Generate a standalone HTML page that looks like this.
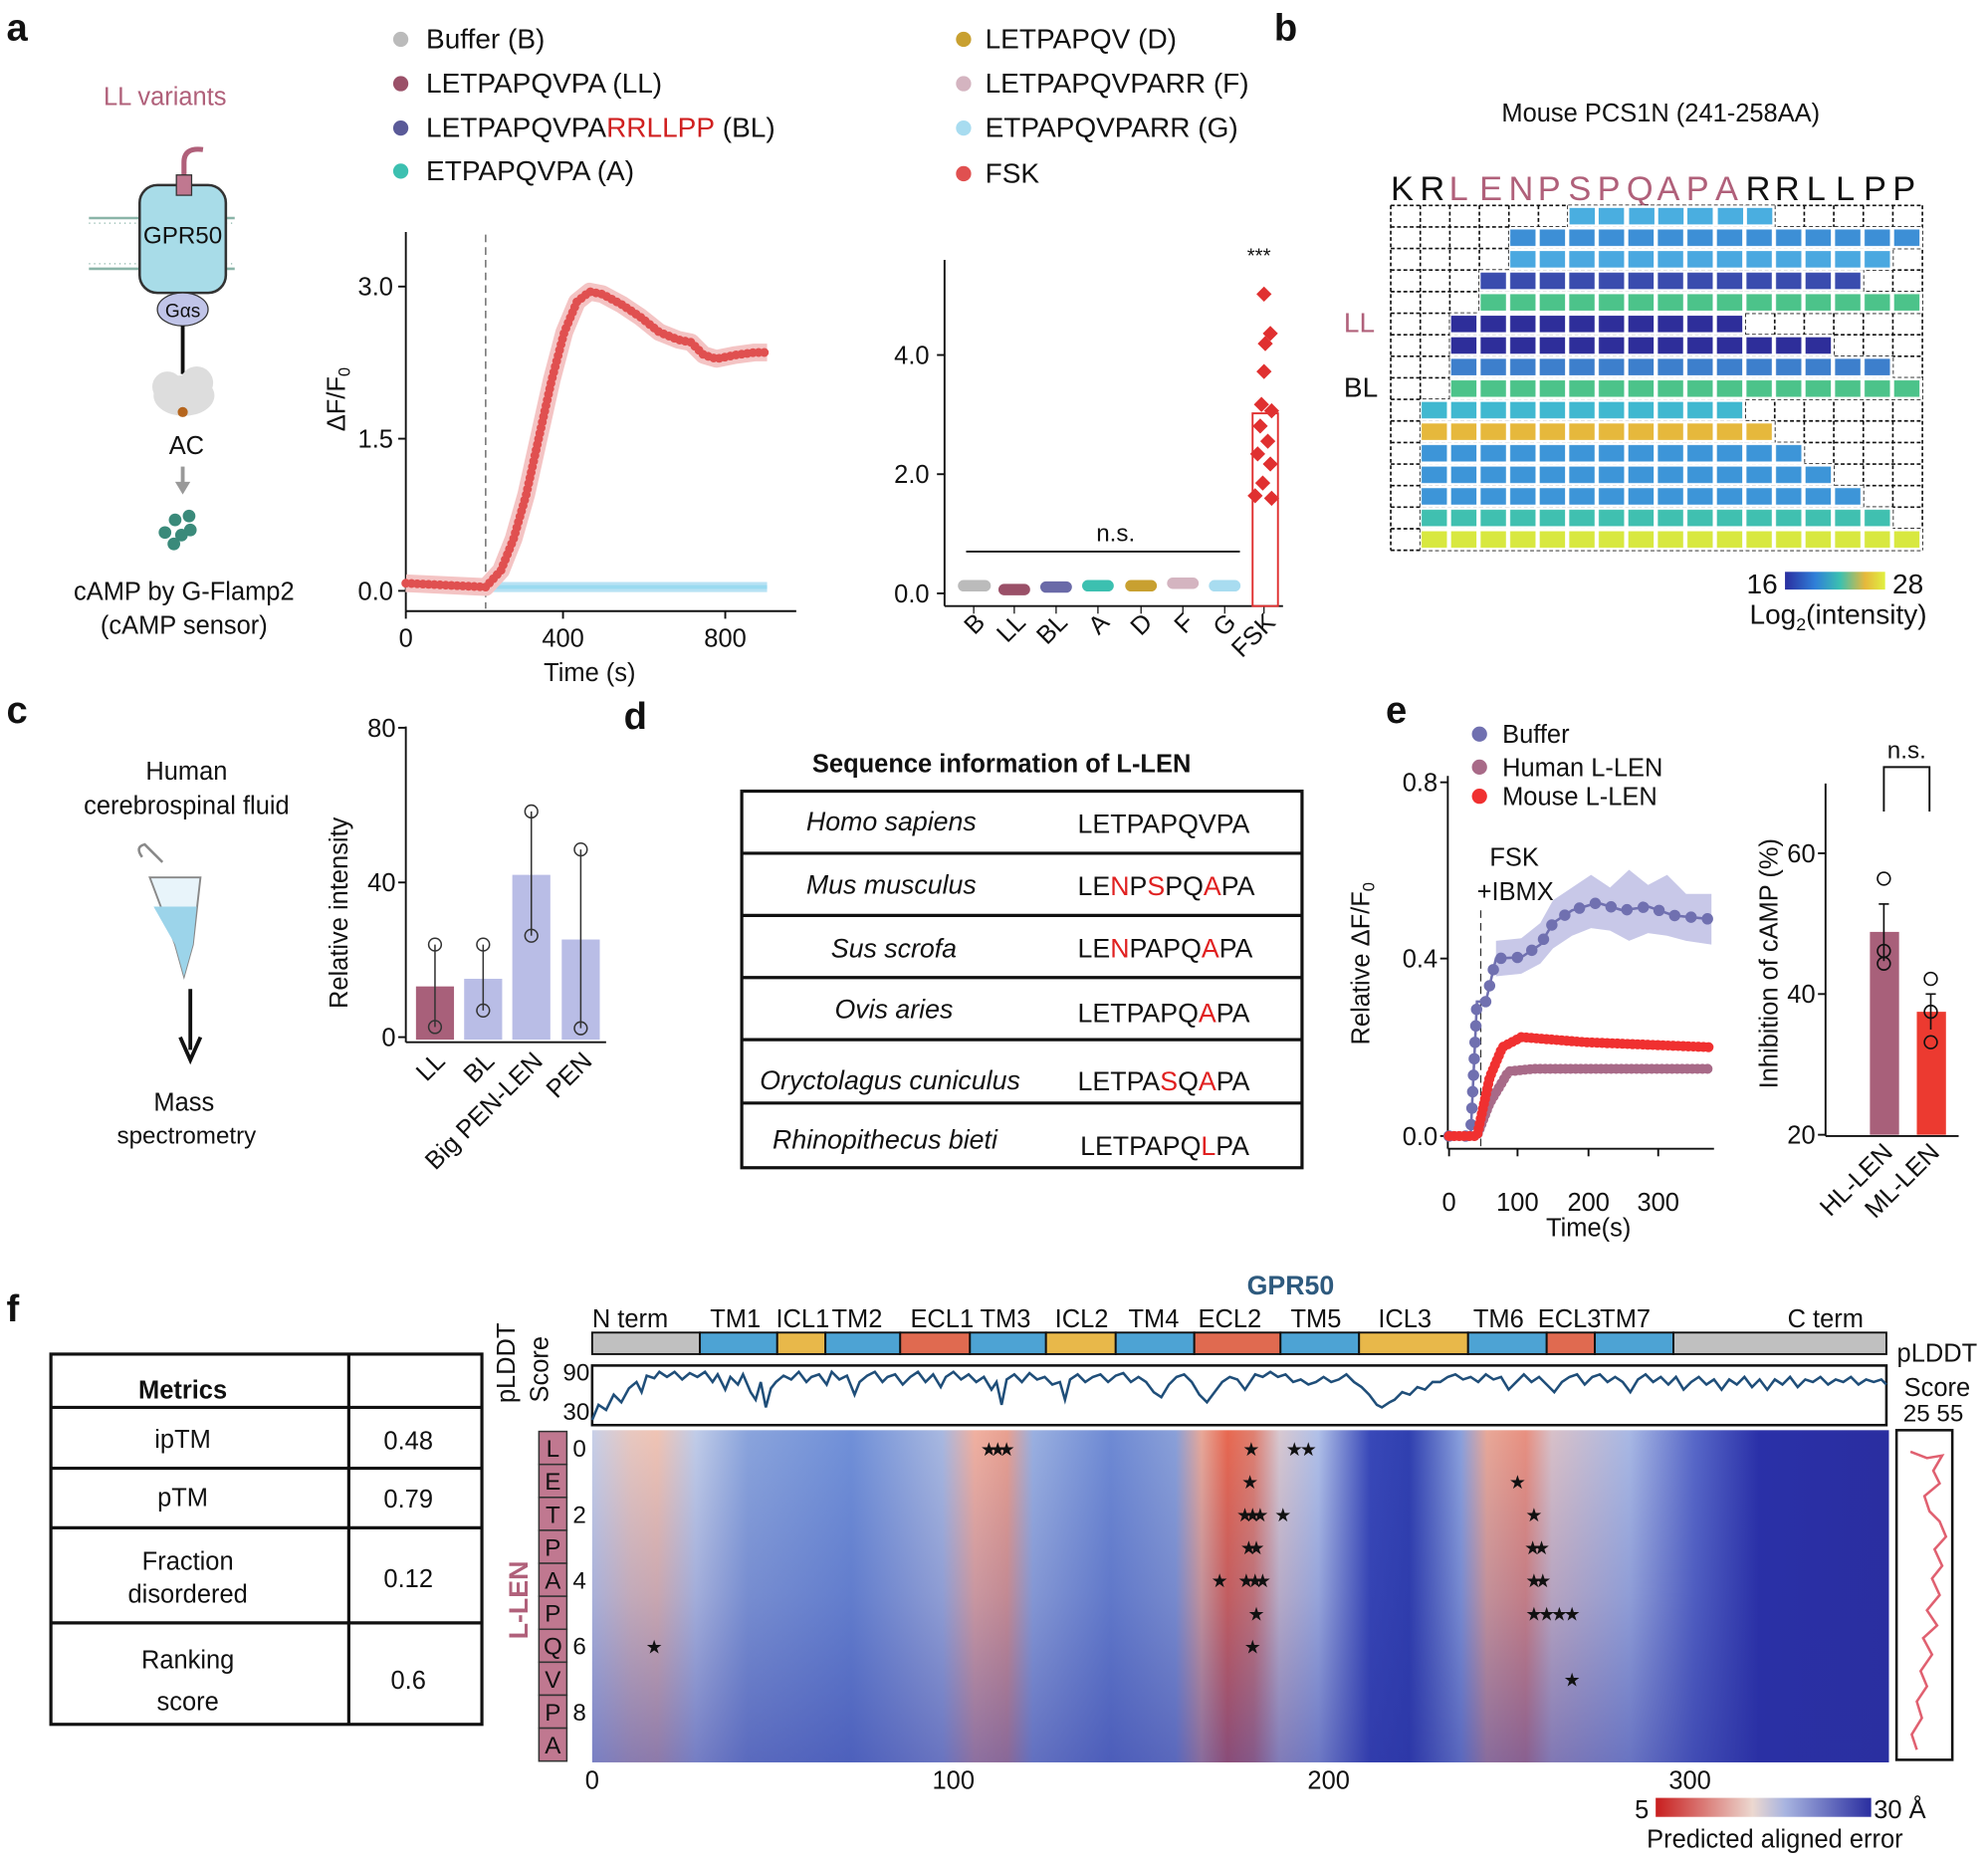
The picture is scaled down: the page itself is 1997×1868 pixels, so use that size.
<!DOCTYPE html>
<html><head><meta charset="utf-8"><style>
html,body{margin:0;padding:0;background:#fff}
svg{display:block}
text{font-family:"Liberation Sans",Arial,sans-serif;fill:#111}
</style></head><body>
<svg xmlns="http://www.w3.org/2000/svg" width="1997" height="1868" viewBox="0 0 1568 1467">
<defs>
<linearGradient id="cb1" x1="0" x2="1"><stop offset="0" stop-color="#2a2ea0"/><stop offset="0.3" stop-color="#2f7fd8"/><stop offset="0.55" stop-color="#3cc0b0"/><stop offset="0.8" stop-color="#e6b83c"/><stop offset="1" stop-color="#e0f040"/></linearGradient>
<linearGradient id="cb2" x1="0" x2="1"><stop offset="0" stop-color="#c81e1e"/><stop offset="0.45" stop-color="#ecd8d0"/><stop offset="0.6" stop-color="#a8b4e0"/><stop offset="1" stop-color="#2a2ea0"/></linearGradient>
<linearGradient id="hm" x1="0" x2="1">
<stop offset="0" stop-color="#c8d0e8"/><stop offset="0.03" stop-color="#e8c8c0"/><stop offset="0.05" stop-color="#f0c4b4"/><stop offset="0.08" stop-color="#c0cce8"/><stop offset="0.12" stop-color="#8aa4dc"/><stop offset="0.2" stop-color="#7090d8"/><stop offset="0.27" stop-color="#a8b8e0"/><stop offset="0.295" stop-color="#f0b0a0"/><stop offset="0.32" stop-color="#e8a090"/><stop offset="0.34" stop-color="#9ab0e0"/><stop offset="0.4" stop-color="#6e8ad4"/><stop offset="0.45" stop-color="#8aa0d8"/><stop offset="0.47" stop-color="#e8a898"/><stop offset="0.49" stop-color="#e86850"/><stop offset="0.51" stop-color="#e08070"/><stop offset="0.53" stop-color="#d8c8d0"/><stop offset="0.56" stop-color="#b0c0e8"/><stop offset="0.6" stop-color="#3848b8"/><stop offset="0.63" stop-color="#3040b0"/><stop offset="0.67" stop-color="#8aa0dc"/><stop offset="0.69" stop-color="#e8a898"/><stop offset="0.72" stop-color="#e89080"/><stop offset="0.74" stop-color="#d8c0c8"/><stop offset="0.8" stop-color="#a8b8e4"/><stop offset="0.85" stop-color="#5868c8"/><stop offset="0.9" stop-color="#2a30a8"/><stop offset="1" stop-color="#2a2ea0"/>
</linearGradient>
<linearGradient id="hmv" x1="0" y1="0" x2="0" y2="1"><stop offset="0" stop-color="#2a30a0" stop-opacity="0"/><stop offset="0.5" stop-color="#2a30a0" stop-opacity="0.2"/><stop offset="1" stop-color="#2a30a0" stop-opacity="0.5"/></linearGradient>
<pattern id="pc1" x="1190.2" y="162" width="23.3" height="17" patternUnits="userSpaceOnUse"><rect x="1" y="2" width="20" height="13" fill="#3d8fd6"/></pattern>
<pattern id="pc2" x="1190.2" y="162" width="23.3" height="17" patternUnits="userSpaceOnUse"><rect x="1" y="2" width="20" height="13" fill="#4aa8e0"/></pattern>
<pattern id="pc3" x="1166.9" y="162" width="23.3" height="17" patternUnits="userSpaceOnUse"><rect x="1" y="2" width="20" height="13" fill="#3a4cae"/></pattern>
<pattern id="pc4" x="1166.9" y="162" width="23.3" height="17" patternUnits="userSpaceOnUse"><rect x="1" y="2" width="20" height="13" fill="#4cc38a"/></pattern>
<pattern id="pc5" x="1143.6" y="162" width="23.3" height="17" patternUnits="userSpaceOnUse"><rect x="1" y="2" width="20" height="13" fill="#2e2e9a"/></pattern>
<pattern id="pc7" x="1143.6" y="162" width="23.3" height="17" patternUnits="userSpaceOnUse"><rect x="1" y="2" width="20" height="13" fill="#3d7fcc"/></pattern>
<pattern id="pc8" x="1143.6" y="162" width="23.3" height="17" patternUnits="userSpaceOnUse"><rect x="1" y="2" width="20" height="13" fill="#4cc38a"/></pattern>
<pattern id="pc9" x="1120.3" y="162" width="23.3" height="17" patternUnits="userSpaceOnUse"><rect x="1" y="2" width="20" height="13" fill="#40b8d0"/></pattern>
<pattern id="pc10" x="1120.3" y="162" width="23.3" height="17" patternUnits="userSpaceOnUse"><rect x="1" y="2" width="20" height="13" fill="#e6b83c"/></pattern>
<pattern id="pc11" x="1120.3" y="162" width="23.3" height="17" patternUnits="userSpaceOnUse"><rect x="1" y="2" width="20" height="13" fill="#3d95d8"/></pattern>
<pattern id="pc14" x="1120.3" y="162" width="23.3" height="17" patternUnits="userSpaceOnUse"><rect x="1" y="2" width="20" height="13" fill="#40c0b0"/></pattern>
<pattern id="pc15" x="1120.3" y="162" width="23.3" height="17" patternUnits="userSpaceOnUse"><rect x="1" y="2" width="20" height="13" fill="#d8e840"/></pattern>
</defs>

<!-- panel labels -->
<g font-weight="bold" font-size="30"><text x="5" y="32">a</text><text x="1005" y="32">b</text><text x="5" y="570">c</text><text x="492" y="575">d</text><text x="1093" y="570">e</text><text x="5" y="1042">f</text></g>

<!-- a schematic -->
<text x="130" y="83" font-size="20" text-anchor="middle" style="fill:#b0607a">LL variants</text>
<path d="M145 150 V128 Q145 116 160 118" stroke="#b0607a" stroke-width="4" fill="none"/>
<g stroke="#8ab4a8" stroke-width="2"><line x1="70" y1="172" x2="185" y2="172"/><line x1="70" y1="212" x2="185" y2="212"/></g>
<g stroke="#8ab4a8" stroke-width="1"><line x1="70" y1="176" x2="185" y2="176" stroke-dasharray="1 3"/><line x1="70" y1="208" x2="185" y2="208" stroke-dasharray="1 3"/></g>
<rect x="110" y="146" width="68" height="85" rx="14" fill="#a8dce8" stroke="#333" stroke-width="2"/>
<rect x="139" y="138" width="12" height="16" fill="#c07890" stroke="#333"/>
<text x="144" y="192" font-size="19" text-anchor="middle">GPR50</text>
<ellipse cx="144" cy="244" rx="20" ry="13" fill="#c0c4e8" stroke="#333"/>
<text x="144" y="250" font-size="15" text-anchor="middle">Gαs</text>
<line x1="144" y1="257" x2="144" y2="295" stroke="#111" stroke-width="3"/>
<ellipse cx="145" cy="312" rx="24" ry="16" fill="#ddd"/><circle cx="132" cy="305" r="12" fill="#ddd"/><circle cx="155" cy="302" r="13" fill="#ddd"/>
<circle cx="144" cy="325" r="4" fill="#b5651d"/>
<text x="147" y="358" font-size="20" text-anchor="middle">AC</text>
<line x1="144" y1="368" x2="144" y2="382" stroke="#999" stroke-width="3"/><path d="M138 380 L150 380 L144 390Z" fill="#999"/>
<g fill="#3a8a7a"><circle cx="138" cy="410" r="5"/><circle cx="149" cy="407" r="5"/><circle cx="130" cy="420" r="5"/><circle cx="143" cy="422" r="5"/><circle cx="150" cy="418" r="5"/><circle cx="137" cy="429" r="5"/></g>
<text x="145" y="473" font-size="20" text-anchor="middle">cAMP by G-Flamp2</text>
<text x="145" y="500" font-size="20" text-anchor="middle">(cAMP sensor)</text>

<!-- a legend -->
<g font-size="22">
<circle cx="316" cy="31" r="6" fill="#bbb"/><text x="336" y="38">Buffer (B)</text>
<circle cx="316" cy="66" r="6" fill="#9a5068"/><text x="336" y="73">LETPAPQVPA (LL)</text>
<circle cx="316" cy="101" r="6" fill="#5a5a98"/><text x="336" y="108">LETPAPQVPA<tspan style="fill:#d02020">RRLLPP</tspan> (BL)</text>
<circle cx="316" cy="135" r="6" fill="#3cc0b0"/><text x="336" y="142">ETPAPQVPA (A)</text>
<circle cx="760" cy="31" r="6" fill="#c8a030"/><text x="777" y="38">LETPAPQV (D)</text>
<circle cx="760" cy="66" r="6" fill="#d4b4c0"/><text x="777" y="73">LETPAPQVPARR (F)</text>
<circle cx="760" cy="101" r="6" fill="#a8dcf0"/><text x="777" y="108">ETPAPQVPARR (G)</text>
<circle cx="760" cy="137" r="6" fill="#e05050"/><text x="777" y="144">FSK</text>
</g>

<!-- a line chart -->
<g stroke="#111" stroke-width="1.5"><line x1="320" y1="183" x2="320" y2="482"/><line x1="320" y1="482" x2="628" y2="482"/>
<line x1="314" y1="226" x2="320" y2="226"/><line x1="314" y1="346" x2="320" y2="346"/><line x1="314" y1="466" x2="320" y2="466"/>
<line x1="320" y1="482" x2="320" y2="488"/><line x1="444" y1="482" x2="444" y2="488"/><line x1="572" y1="482" x2="572" y2="488"/></g>
<g font-size="20" text-anchor="end"><text x="310" y="233">3.0</text><text x="310" y="353">1.5</text><text x="310" y="473">0.0</text></g>
<g font-size="20" text-anchor="middle"><text x="320" y="510">0</text><text x="444" y="510">400</text><text x="572" y="510">800</text><text x="465" y="537">Time (s)</text></g>
<text transform="translate(272,315) rotate(-90)" font-size="20" text-anchor="middle">ΔF/F<tspan font-size="13" dy="4">0</tspan></text>
<line x1="383" y1="185" x2="383" y2="480" stroke="#555" stroke-dasharray="6 4"/>
<polyline points="320,463 605,463" stroke="#b8e2f4" stroke-width="8" fill="none"/>
<polyline points="320,463 605,463" stroke="#9adaf0" stroke-width="3" fill="none"/>
<path d="M320,460 L383,463 L395,450 L405,425 L415,390 L425,345 L435,300 L445,262 L455,238 L465,230 L475,232 L490,240 L505,250 L520,262 L535,268 L545,270 L555,280 L565,283 L580,280 L595,278 L605,278" stroke="#f4c4c4" stroke-width="14" fill="none" stroke-linejoin="round"/>
<path d="M320,460 L383,463 L395,450 L405,425 L415,390 L425,345 L435,300 L445,262 L455,238 L465,230 L475,232 L490,240 L505,250 L520,262 L535,268 L545,270 L555,280 L565,283 L580,280 L595,278 L605,278" stroke="#e05050" stroke-width="7" fill="none" stroke-dasharray="0 4.5" stroke-linecap="round"/>

<!-- a scatter -->
<g stroke="#111" stroke-width="1.5"><line x1="745" y1="205" x2="745" y2="478"/><line x1="745" y1="478" x2="1012" y2="478"/>
<line x1="739" y1="280" x2="745" y2="280"/><line x1="739" y1="374" x2="745" y2="374"/><line x1="739" y1="468" x2="745" y2="468"/></g>
<g font-size="20" text-anchor="end"><text x="733" y="287">4.0</text><text x="733" y="381">2.0</text><text x="733" y="475">0.0</text></g>
<g stroke="#111"><line x1="768" y1="478" x2="768" y2="484"/><line x1="800" y1="478" x2="800" y2="484"/><line x1="833" y1="478" x2="833" y2="484"/><line x1="866" y1="478" x2="866" y2="484"/><line x1="900" y1="478" x2="900" y2="484"/><line x1="933" y1="478" x2="933" y2="484"/><line x1="966" y1="478" x2="966" y2="484"/><line x1="997" y1="478" x2="997" y2="484"/></g>
<g font-size="20" text-anchor="end">
<text transform="translate(778,492) rotate(-45)">B</text><text transform="translate(810,492) rotate(-45)">LL</text><text transform="translate(843,492) rotate(-45)">BL</text><text transform="translate(876,492) rotate(-45)">A</text><text transform="translate(910,492) rotate(-45)">D</text><text transform="translate(943,492) rotate(-45)">F</text><text transform="translate(976,492) rotate(-45)">G</text><text transform="translate(1007,492) rotate(-45)">FSK</text></g>
<g stroke-width="9" stroke-linecap="round">
<line x1="760" y1="462" x2="777" y2="462" stroke="#bbb"/><line x1="792" y1="465" x2="808" y2="465" stroke="#9a5068"/><line x1="825" y1="463" x2="841" y2="463" stroke="#6a6aa8"/><line x1="858" y1="462" x2="874" y2="462" stroke="#3cc0b0"/><line x1="892" y1="462" x2="908" y2="462" stroke="#c8a030"/><line x1="925" y1="460" x2="941" y2="460" stroke="#d4b4c0"/><line x1="958" y1="462" x2="974" y2="462" stroke="#a8dcf0"/></g>
<line x1="762" y1="435" x2="978" y2="435" stroke="#111" stroke-width="1.5"/>
<text x="880" y="427" font-size="19" text-anchor="middle">n.s.</text>
<text x="993" y="207" font-size="16" text-anchor="middle">***</text>
<rect x="988" y="326" width="20" height="152" fill="none" stroke="#e03030" stroke-width="1.5"/>
<g fill="#e03030">
<path d="M997 226 l6 6 -6 6 -6 -6z"/><path d="M1002 257 l6 6 -6 6 -6 -6z"/><path d="M998 265 l6 6 -6 6 -6 -6z"/><path d="M997 287 l6 6 -6 6 -6 -6z"/><path d="M995 313 l6 6 -6 6 -6 -6z"/><path d="M1003 318 l6 6 -6 6 -6 -6z"/><path d="M994 330 l6 6 -6 6 -6 -6z"/><path d="M1000 342 l6 6 -6 6 -6 -6z"/><path d="M992 352 l6 6 -6 6 -6 -6z"/><path d="M1002 360 l6 6 -6 6 -6 -6z"/><path d="M996 375 l6 6 -6 6 -6 -6z"/><path d="M990 385 l6 6 -6 6 -6 -6z"/><path d="M1003 387 l6 6 -6 6 -6 -6z"/></g>

<!-- b -->
<text x="1310" y="96" font-size="20" text-anchor="middle">Mouse PCS1N (241-258AA)</text>
<g font-size="27">
<text x="1097" y="158">K</text><text x="1120" y="158">R</text>
<text x="1143" y="158" style="fill:#b0607a">L</text><text x="1167" y="158" style="fill:#b0607a">E</text><text x="1190" y="158" style="fill:#b0607a">N</text><text x="1213" y="158" style="fill:#b0607a">P</text><text x="1237" y="158" style="fill:#b0607a">S</text><text x="1260" y="158" style="fill:#b0607a">P</text><text x="1283" y="158" style="fill:#b0607a">Q</text><text x="1307" y="158" style="fill:#b0607a">A</text><text x="1330" y="158" style="fill:#b0607a">P</text><text x="1353" y="158" style="fill:#b0607a">A</text>
<text x="1377" y="158">R</text><text x="1400" y="158">R</text><text x="1425" y="158">L</text><text x="1448" y="158">L</text><text x="1470" y="158">P</text><text x="1493" y="158">P</text></g>
<text x="1060" y="262" font-size="22" style="fill:#b0607a">LL</text>
<text x="1060" y="313" font-size="22">BL</text>
<g stroke="#111" stroke-width="1.3" stroke-dasharray="3 2" fill="none">
<path d="M1097 162 h420 M1097 179 h420 M1097 196 h420 M1097 213 h420 M1097 230 h420 M1097 247 h420 M1097 264 h420 M1097 281 h420 M1097 298 h420 M1097 315 h420 M1097 332 h420 M1097 349 h420 M1097 366 h420 M1097 383 h420 M1097 400 h420 M1097 417 h420 M1097 434 h420"/>
<path d="M1097 162 v272 M1120.3 162 v272 M1143.6 162 v272 M1166.9 162 v272 M1190.2 162 v272 M1213.5 162 v272 M1236.8 162 v272 M1260.1 162 v272 M1283.4 162 v272 M1306.7 162 v272 M1330 162 v272 M1353.3 162 v272 M1376.6 162 v272 M1399.9 162 v272 M1423.2 162 v272 M1446.5 162 v272 M1469.8 162 v272 M1493.1 162 v272 M1516.4 162 v272"/>
</g>
<rect x="1236.8" y="162" width="163.1" height="17" fill="#fff"/><g fill="#4aaee0"><rect x="1238" y="164" width="20" height="13"/><rect x="1261" y="164" width="20" height="13"/><rect x="1285" y="164" width="20" height="13"/><rect x="1308" y="164" width="20" height="13"/><rect x="1331" y="164" width="20" height="13"/><rect x="1355" y="164" width="20" height="13"/><rect x="1378" y="164" width="20" height="13"/></g>
<g>
<rect x="1190.2" y="179" width="326.2" height="17" fill="#fff"/><rect x="1190.2" y="179" width="326.2" height="17" fill="url(#pc1)"/>
<rect x="1190.2" y="196" width="302.9" height="17" fill="#fff"/><rect x="1190.2" y="196" width="302.9" height="17" fill="url(#pc2)"/>
<rect x="1166.9" y="213" width="302.9" height="17" fill="#fff"/><rect x="1166.9" y="213" width="302.9" height="17" fill="url(#pc3)"/>
<rect x="1166.9" y="230" width="349.5" height="17" fill="#fff"/><rect x="1166.9" y="230" width="349.5" height="17" fill="url(#pc4)"/>
<rect x="1143.6" y="247" width="233" height="17" fill="#fff"/><rect x="1143.6" y="247" width="233" height="17" fill="url(#pc5)"/>
<rect x="1143.6" y="264" width="302.9" height="17" fill="#fff"/><rect x="1143.6" y="264" width="302.9" height="17" fill="url(#pc5)"/>
<rect x="1143.6" y="281" width="349.5" height="17" fill="#fff"/><rect x="1143.6" y="281" width="349.5" height="17" fill="url(#pc7)"/>
<rect x="1143.6" y="298" width="372.8" height="17" fill="#fff"/><rect x="1143.6" y="298" width="372.8" height="17" fill="url(#pc8)"/>
<rect x="1120.3" y="315" width="256.3" height="17" fill="#fff"/><rect x="1120.3" y="315" width="256.3" height="17" fill="url(#pc9)"/>
<rect x="1120.3" y="332" width="279.6" height="17" fill="#fff"/><rect x="1120.3" y="332" width="279.6" height="17" fill="url(#pc10)"/>
<rect x="1120.3" y="349" width="302.9" height="17" fill="#fff"/><rect x="1120.3" y="349" width="302.9" height="17" fill="url(#pc11)"/>
<rect x="1120.3" y="366" width="326.2" height="17" fill="#fff"/><rect x="1120.3" y="366" width="326.2" height="17" fill="url(#pc11)"/>
<rect x="1120.3" y="383" width="349.5" height="17" fill="#fff"/><rect x="1120.3" y="383" width="349.5" height="17" fill="url(#pc11)"/>
<rect x="1120.3" y="400" width="372.8" height="17" fill="#fff"/><rect x="1120.3" y="400" width="372.8" height="17" fill="url(#pc14)"/>
<rect x="1120.3" y="417" width="396.1" height="17" fill="#fff"/><rect x="1120.3" y="417" width="396.1" height="17" fill="url(#pc15)"/>
</g>
<text x="1390" y="468" font-size="22" text-anchor="middle">16</text>
<rect x="1408" y="451" width="79" height="14" fill="url(#cb1)"/>
<text x="1505" y="468" font-size="22" text-anchor="middle">28</text>
<text x="1450" y="492" font-size="22" text-anchor="middle">Log<tspan font-size="14" dy="5">2</tspan><tspan dy="-5">(intensity)</tspan></text>

<!-- c -->
<text x="147" y="615" font-size="20" text-anchor="middle">Human</text>
<text x="147" y="642" font-size="20" text-anchor="middle">cerebrospinal fluid</text>
<path d="M118 692 L158 692 L152 745 L145 770 L138 745 Z" fill="#e8f4fa" stroke="#888" stroke-width="1.5"/>
<path d="M121 715 L155 715 L152 745 L145 770 L138 745 Z" fill="#9cd4ea"/>
<path d="M112 676 Q106 668 114 666 L128 680" fill="none" stroke="#888" stroke-width="2"/>
<line x1="150" y1="780" x2="150" y2="828" stroke="#111" stroke-width="3"/><path d="M142 818 L150 836 L158 818" fill="none" stroke="#111" stroke-width="3"/>
<text x="145" y="876" font-size="20" text-anchor="middle">Mass</text>
<text x="147" y="902" font-size="19" text-anchor="middle">spectrometry</text>
<rect x="328" y="778" width="30" height="42" fill="#a8607a"/>
<rect x="366" y="772" width="30" height="48" fill="#b9bde6"/>
<rect x="404" y="690" width="30" height="130" fill="#b9bde6"/>
<rect x="443" y="741" width="30" height="79" fill="#b9bde6"/>
<g stroke="#333" stroke-width="1.2" fill="none">
<line x1="343" y1="745" x2="343" y2="810"/><circle cx="343" cy="745" r="5"/><circle cx="343" cy="810" r="5"/>
<line x1="381" y1="745" x2="381" y2="797"/><circle cx="381" cy="745" r="5"/><circle cx="381" cy="797" r="5"/>
<line x1="419" y1="640" x2="419" y2="738"/><circle cx="419" cy="640" r="5"/><circle cx="419" cy="738" r="5"/>
<line x1="458" y1="670" x2="458" y2="811"/><circle cx="458" cy="670" r="5"/><circle cx="458" cy="811" r="5"/>
</g>
<g stroke="#111" stroke-width="1.5"><line x1="320" y1="573" x2="320" y2="822"/><line x1="320" y1="822" x2="478" y2="822"/><line x1="314" y1="574" x2="320" y2="574"/><line x1="314" y1="696" x2="320" y2="696"/><line x1="314" y1="818" x2="320" y2="818"/></g>
<g font-size="20" text-anchor="end"><text x="312" y="581">80</text><text x="312" y="703">40</text><text x="312" y="825">0</text></g>
<text transform="translate(274,720) rotate(-90)" font-size="20" text-anchor="middle">Relative intensity</text>
<g font-size="20" text-anchor="end"><text transform="translate(352,838) rotate(-45)">LL</text><text transform="translate(391,838) rotate(-45)">BL</text><text transform="translate(429,838) rotate(-45)">Big PEN-LEN</text><text transform="translate(468,838) rotate(-45)">PEN</text></g>

<!-- d -->
<text x="790" y="609" font-size="20" font-weight="bold" text-anchor="middle">Sequence information of L-LEN</text>
<g stroke="#111" stroke-width="2.5"><rect x="585" y="624" width="442" height="297" fill="none"/>
<line x1="585" y1="673" x2="1027" y2="673"/><line x1="585" y1="722" x2="1027" y2="722"/><line x1="585" y1="771" x2="1027" y2="771"/><line x1="585" y1="820" x2="1027" y2="820"/><line x1="585" y1="870" x2="1027" y2="870"/></g>
<g font-size="21" font-style="italic" text-anchor="middle"><text x="703" y="655">Homo sapiens</text><text x="703" y="705">Mus musculus</text><text x="705" y="755">Sus scrofa</text><text x="705" y="803">Ovis aries</text><text x="702" y="859">Oryctolagus cuniculus</text><text x="698" y="906">Rhinopithecus bieti</text></g>
<g font-size="21"><text x="850" y="657">LETPAPQVPA</text>
<text x="850" y="706">LE<tspan style="fill:#e02020">N</tspan>P<tspan style="fill:#e02020">S</tspan>PQ<tspan style="fill:#e02020">A</tspan>PA</text>
<text x="850" y="755">LE<tspan style="fill:#e02020">N</tspan>PAPQ<tspan style="fill:#e02020">A</tspan>PA</text>
<text x="850" y="806">LETPAPQ<tspan style="fill:#e02020">A</tspan>PA</text>
<text x="850" y="860">LETPA<tspan style="fill:#e02020">S</tspan>Q<tspan style="fill:#e02020">A</tspan>PA</text>
<text x="852" y="911">LETPAPQ<tspan style="fill:#e02020">L</tspan>PA</text></g>

<!-- e -->
<g font-size="20"><circle cx="1167" cy="579" r="6" fill="#7070b0"/><text x="1185" y="586">Buffer</text>
<circle cx="1167" cy="605" r="6" fill="#a86a88"/><text x="1185" y="612">Human L-LEN</text>
<circle cx="1167" cy="628" r="6" fill="#f03030"/><text x="1185" y="635">Mouse L-LEN</text></g>
<g stroke="#111" stroke-width="1.5"><line x1="1142" y1="612" x2="1142" y2="906"/><line x1="1142" y1="906" x2="1352" y2="906"/><line x1="1136" y1="617" x2="1142" y2="617"/><line x1="1136" y1="756" x2="1142" y2="756"/><line x1="1136" y1="896" x2="1142" y2="896"/>
<line x1="1143" y1="906" x2="1143" y2="912"/><line x1="1197" y1="906" x2="1197" y2="912"/><line x1="1253" y1="906" x2="1253" y2="912"/><line x1="1308" y1="906" x2="1308" y2="912"/></g>
<g font-size="20" text-anchor="end"><text x="1134" y="624">0.8</text><text x="1134" y="763">0.4</text><text x="1134" y="903">0.0</text></g>
<g font-size="20" text-anchor="middle"><text x="1143" y="955">0</text><text x="1197" y="955">100</text><text x="1253" y="955">200</text><text x="1308" y="955">300</text><text x="1253" y="975">Time(s)</text></g>
<text transform="translate(1080,760) rotate(-90)" font-size="20" text-anchor="middle">Relative ΔF/F<tspan font-size="13" dy="4">0</tspan></text>
<path d="M1180,742 L1200,740 L1215,728 L1225,710 L1240,700 L1255,690 L1270,700 L1285,686 L1300,698 L1315,690 L1330,705 L1350,705 L1350,745 L1330,742 L1315,738 L1300,736 L1285,742 L1270,734 L1255,732 L1240,738 L1225,748 L1215,760 L1200,768 L1180,770Z" fill="#c8c8e8"/>
<text x="1175" y="683" font-size="20">FSK</text><text x="1165" y="710" font-size="20">+IBMX</text>
<line x1="1168" y1="718" x2="1168" y2="905" stroke="#333" stroke-dasharray="6 4"/>
<path d="M1143,896 L1160,896 L1165,790 L1172,790 L1180,756 L1200,755 L1215,745 L1225,728 L1240,718 L1260,712 L1280,718 L1300,715 L1320,722 L1350,725" stroke="#7070b0" stroke-width="2" fill="none"/>
<path d="M1143,896 L1160,896 L1165,790 L1172,790 L1180,756 L1200,755 L1215,745 L1225,728 L1240,718 L1260,712 L1280,718 L1300,715 L1320,722 L1350,725" stroke="#7070b0" stroke-width="9" fill="none" stroke-dasharray="0 13" stroke-linecap="round"/>
<path d="M1143,896 L1165,896 L1175,870 L1190,845 L1210,843 L1350,843" stroke="#a86a88" stroke-width="8" fill="none" stroke-dasharray="0 4" stroke-linecap="round"/>
<path d="M1143,896 L1165,896 L1175,850 L1185,826 L1200,818 L1250,822 L1350,826" stroke="#f03030" stroke-width="8" fill="none" stroke-dasharray="0 4" stroke-linecap="round"/>
<!-- e bars -->
<rect x="1475" y="735" width="23" height="160" fill="#a8607a"/>
<rect x="1512" y="798" width="23" height="97" fill="#ec3a30"/>
<g stroke="#111" fill="none" stroke-width="1.3"><line x1="1486" y1="713" x2="1486" y2="758"/><line x1="1482" y1="713" x2="1490" y2="713"/><line x1="1523" y1="784" x2="1523" y2="812"/><line x1="1519" y1="784" x2="1527" y2="784"/>
<circle cx="1486" cy="693" r="5"/><circle cx="1486" cy="750" r="5"/><circle cx="1486" cy="760" r="5"/><circle cx="1523" cy="772" r="5"/><circle cx="1523" cy="798" r="5"/><circle cx="1523" cy="822" r="5"/></g>
<g stroke="#111" stroke-width="1.5"><line x1="1440" y1="618" x2="1440" y2="896"/><line x1="1440" y1="896" x2="1545" y2="896"/><line x1="1434" y1="673" x2="1440" y2="673"/><line x1="1434" y1="784" x2="1440" y2="784"/><line x1="1434" y1="895" x2="1440" y2="895"/>
<path d="M1486 640 V605 H1522 V640" fill="none"/></g>
<g font-size="20" text-anchor="end"><text x="1432" y="680">60</text><text x="1432" y="791">40</text><text x="1432" y="902">20</text></g>
<text x="1504" y="598" font-size="19" text-anchor="middle">n.s.</text>
<text transform="translate(1402,760) rotate(-90)" font-size="20" text-anchor="middle">Inhibition of cAMP (%)</text>
<g font-size="20" text-anchor="end"><text transform="translate(1494,910) rotate(-45)">HL-LEN</text><text transform="translate(1531,910) rotate(-45)">ML-LEN</text></g>

<!-- f table -->
<g stroke="#111" stroke-width="2.5" fill="none"><rect x="40" y="1068" width="340" height="292"/>
<line x1="40" y1="1110" x2="380" y2="1110"/><line x1="40" y1="1158" x2="380" y2="1158"/><line x1="40" y1="1205" x2="380" y2="1205"/><line x1="40" y1="1280" x2="380" y2="1280"/><line x1="275" y1="1068" x2="275" y2="1360"/></g>
<g font-size="20" text-anchor="middle"><text x="144" y="1103" font-weight="bold">Metrics</text>
<text x="144" y="1142">ipTM</text><text x="322" y="1143">0.48</text>
<text x="144" y="1188">pTM</text><text x="322" y="1189">0.79</text>
<text x="148" y="1238">Fraction</text><text x="148" y="1264">disordered</text><text x="322" y="1252">0.12</text>
<text x="148" y="1316">Ranking</text><text x="148" y="1349">score</text><text x="322" y="1332">0.6</text></g>

<!-- f GPR50 -->
<text x="1018" y="1021" font-size="21" font-weight="bold" text-anchor="middle" style="fill:#2e5a7e">GPR50</text>
<g font-size="20"><text x="467" y="1047">N term</text><text x="560" y="1047">TM1</text><text x="612" y="1047">ICL1</text><text x="656" y="1047">TM2</text><text x="718" y="1047">ECL1</text><text x="773" y="1047">TM3</text><text x="832" y="1047">ICL2</text><text x="890" y="1047">TM4</text><text x="945" y="1047">ECL2</text><text x="1018" y="1047">TM5</text><text x="1087" y="1047">ICL3</text><text x="1162" y="1047">TM6</text><text x="1213" y="1047">ECL3</text><text x="1262" y="1047">TM7</text><text x="1410" y="1047">C term</text></g>
<g stroke="#111" stroke-width="1.5">
<rect x="467" y="1051" width="85" height="17" fill="#c0c0c0"/><rect x="552" y="1051" width="61" height="17" fill="#4da3d4"/><rect x="613" y="1051" width="38" height="17" fill="#e8b84a"/><rect x="651" y="1051" width="59" height="17" fill="#4da3d4"/><rect x="710" y="1051" width="55" height="17" fill="#e06a50"/><rect x="765" y="1051" width="60" height="17" fill="#4da3d4"/><rect x="825" y="1051" width="55" height="17" fill="#e8b84a"/><rect x="880" y="1051" width="62" height="17" fill="#4da3d4"/><rect x="942" y="1051" width="68" height="17" fill="#e06a50"/><rect x="1010" y="1051" width="62" height="17" fill="#4da3d4"/><rect x="1072" y="1051" width="86" height="17" fill="#e8b84a"/><rect x="1158" y="1051" width="62" height="17" fill="#4da3d4"/><rect x="1220" y="1051" width="38" height="17" fill="#e06a50"/><rect x="1258" y="1051" width="62" height="17" fill="#4da3d4"/><rect x="1320" y="1051" width="168" height="17" fill="#c0c0c0"/></g>
<rect x="467" y="1077" width="1021" height="47" fill="none" stroke="#111" stroke-width="2"/>
<polyline fill="none" stroke="#1f4e79" stroke-width="2" points="467,1120 472,1108 478,1112 484,1100 490,1106 496,1095 502,1090 506,1098 510,1085 516,1087 520,1082 526,1086 532,1082 538,1088 544,1083 550,1086 556,1082 562,1090 566,1084 572,1096 576,1086 582,1092 586,1084 592,1098 596,1104 600,1090 604,1110 608,1095 612,1090 618,1085 624,1088 630,1082 636,1090 640,1086 646,1084 652,1092 656,1082 662,1088 668,1085 674,1100 678,1090 684,1085 690,1082 696,1090 700,1086 706,1084 712,1092 718,1086 724,1082 730,1090 736,1084 742,1094 746,1086 752,1082 758,1088 764,1084 770,1090 776,1086 782,1096 786,1090 790,1108 794,1088 800,1084 806,1090 812,1083 818,1088 824,1086 830,1092 836,1090 840,1104 844,1088 850,1084 856,1090 862,1086 868,1084 874,1090 880,1085 886,1083 892,1090 898,1086 904,1090 910,1098 916,1102 922,1092 928,1086 934,1084 940,1090 946,1100 952,1106 958,1098 964,1090 970,1086 976,1088 982,1096 986,1090 990,1084 996,1086 1002,1082 1008,1086 1014,1084 1020,1090 1026,1088 1032,1092 1038,1090 1044,1086 1050,1090 1056,1088 1062,1084 1068,1090 1074,1094 1080,1100 1086,1108 1090,1110 1096,1106 1100,1104 1106,1098 1112,1100 1118,1094 1124,1096 1130,1090 1136,1090 1142,1086 1148,1084 1154,1088 1160,1086 1166,1090 1172,1084 1178,1088 1184,1086 1190,1096 1196,1090 1202,1084 1208,1090 1214,1086 1220,1092 1226,1098 1232,1090 1238,1086 1244,1084 1250,1092 1256,1086 1262,1084 1268,1090 1274,1086 1280,1090 1286,1098 1292,1088 1298,1084 1304,1090 1310,1086 1316,1092 1322,1086 1328,1096 1334,1090 1340,1086 1346,1092 1352,1088 1358,1096 1364,1088 1370,1092 1376,1086 1382,1094 1388,1088 1394,1096 1400,1088 1406,1092 1412,1086 1418,1094 1424,1088 1430,1090 1436,1086 1442,1092 1448,1088 1454,1090 1460,1086 1466,1092 1472,1088 1478,1090 1484,1088 1488,1092"/>
<g font-size="19" text-anchor="end"><text x="465" y="1089">90</text><text x="465" y="1120">30</text></g>
<text transform="translate(406,1075) rotate(-90)" font-size="20" text-anchor="middle">pLDDT</text>
<text transform="translate(432,1080) rotate(-90)" font-size="20" text-anchor="middle">Score</text>
<!-- heatmap -->
<rect x="467" y="1128" width="1023" height="262" fill="url(#hm)"/>
<rect x="467" y="1128" width="1023" height="262" fill="url(#hmv)"/>
<g text-anchor="middle" font-size="15" style="fill:#111">
<text x="780" y="1148">★</text><text x="787" y="1148">★</text><text x="794" y="1148">★</text><text x="987" y="1148">★</text><text x="1021" y="1148">★</text><text x="1032" y="1148">★</text>
<text x="986" y="1174">★</text><text x="1197" y="1174">★</text>
<text x="982" y="1200">★</text><text x="988" y="1200">★</text><text x="994" y="1200">★</text><text x="1012" y="1200">★</text><text x="1210" y="1200">★</text>
<text x="985" y="1226">★</text><text x="991" y="1226">★</text><text x="1209" y="1226">★</text><text x="1216" y="1226">★</text>
<text x="962" y="1252">★</text><text x="983" y="1252">★</text><text x="990" y="1252">★</text><text x="996" y="1252">★</text><text x="1210" y="1252">★</text><text x="1217" y="1252">★</text>
<text x="991" y="1278">★</text><text x="1210" y="1278">★</text><text x="1220" y="1278">★</text><text x="1230" y="1278">★</text><text x="1240" y="1278">★</text>
<text x="516" y="1304">★</text><text x="988" y="1304">★</text>
<text x="1240" y="1330">★</text>
</g>
<g stroke="#333" stroke-width="1.2">
<rect x="425" y="1129" width="22" height="26" fill="#c07890"/><rect x="425" y="1155" width="22" height="26" fill="#c07890"/><rect x="425" y="1181" width="22" height="26" fill="#c07890"/><rect x="425" y="1207" width="22" height="26" fill="#c07890"/><rect x="425" y="1233" width="22" height="26" fill="#c07890"/><rect x="425" y="1259" width="22" height="26" fill="#c07890"/><rect x="425" y="1285" width="22" height="26" fill="#c07890"/><rect x="425" y="1311" width="22" height="26" fill="#c07890"/><rect x="425" y="1337" width="22" height="26" fill="#c07890"/><rect x="425" y="1363" width="22" height="26" fill="#c07890"/></g>
<g font-size="19" text-anchor="middle"><text x="436" y="1149">L</text><text x="436" y="1175">E</text><text x="436" y="1201">T</text><text x="436" y="1227">P</text><text x="436" y="1253">A</text><text x="436" y="1279">P</text><text x="436" y="1305">Q</text><text x="436" y="1331">V</text><text x="436" y="1357">P</text><text x="436" y="1383">A</text></g>
<g font-size="19" text-anchor="middle"><text x="457" y="1149">0</text><text x="457" y="1201">2</text><text x="457" y="1253">4</text><text x="457" y="1305">6</text><text x="457" y="1357">8</text></g>
<text transform="translate(416,1262) rotate(-90)" font-size="21" font-weight="bold" text-anchor="middle" style="fill:#b0607a">L-LEN</text>
<g font-size="20" text-anchor="middle"><text x="467" y="1411">0</text><text x="752" y="1411">100</text><text x="1048" y="1411">200</text><text x="1333" y="1411">300</text></g>
<text x="1295" y="1434" font-size="20" text-anchor="middle">5</text>
<rect x="1306" y="1418" width="170" height="15" fill="url(#cb2)"/>
<text x="1478" y="1434" font-size="20">30 Å</text>
<text x="1400" y="1457" font-size="20" text-anchor="middle">Predicted aligned error</text>
<!-- right pLDDT -->
<text x="1528" y="1074" font-size="20" text-anchor="middle">pLDDT</text>
<text x="1528" y="1101" font-size="20" text-anchor="middle">Score</text>
<text x="1525" y="1121" font-size="19" text-anchor="middle">25 55</text>
<rect x="1496" y="1128" width="44" height="260" fill="none" stroke="#111" stroke-width="2"/>
<polyline fill="none" stroke="#e06070" stroke-width="2" points="1507,1145 1520,1150 1532,1148 1525,1160 1530,1170 1518,1180 1522,1192 1530,1200 1535,1212 1526,1222 1532,1235 1524,1245 1530,1258 1520,1270 1528,1282 1517,1292 1524,1305 1515,1318 1520,1330 1512,1342 1516,1355 1508,1368 1512,1380"/>
</svg>
</body></html>
